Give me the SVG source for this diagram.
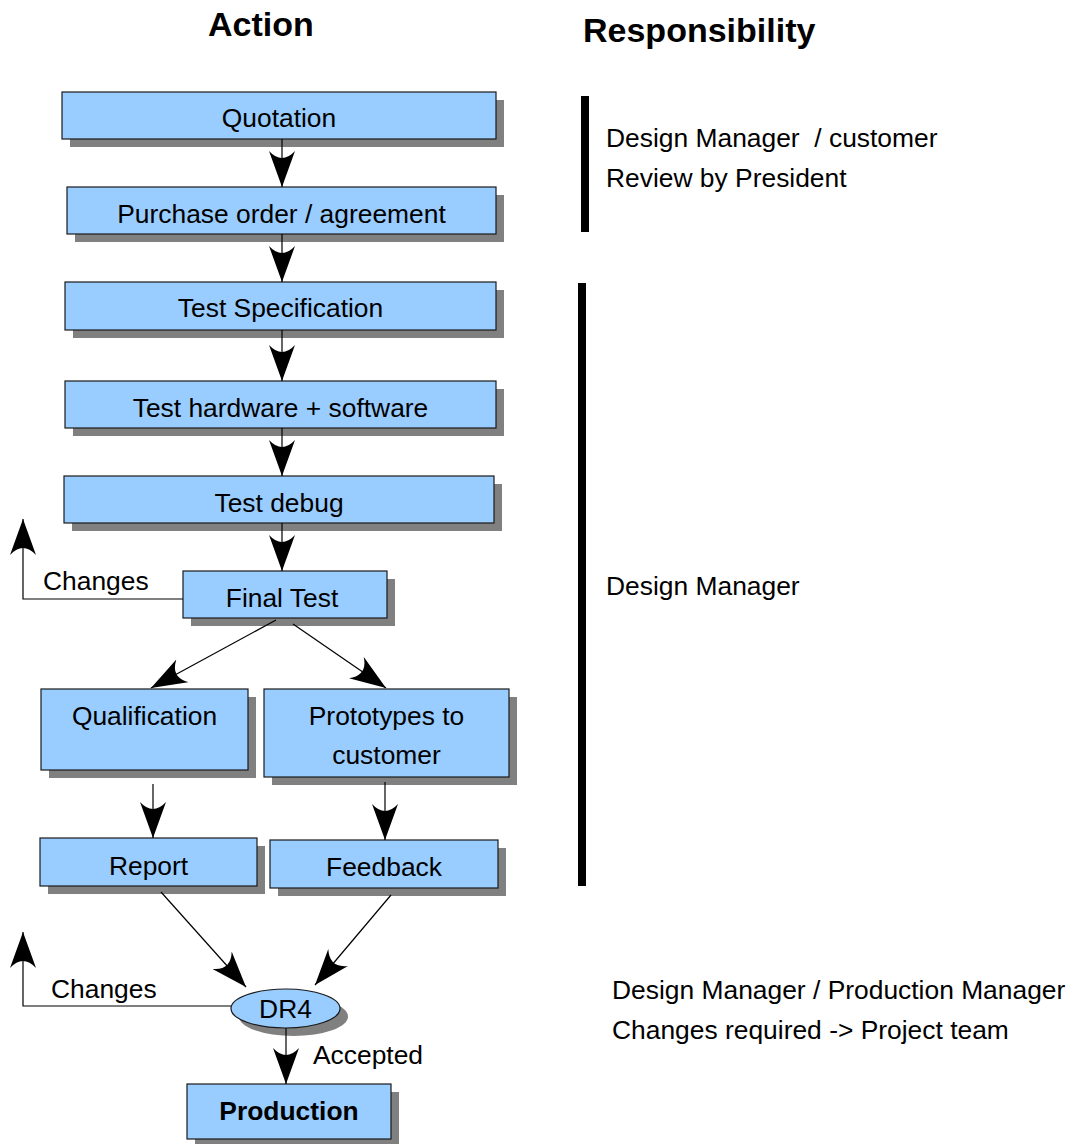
<svg xmlns="http://www.w3.org/2000/svg" width="1075" height="1144" viewBox="0 0 1075 1144">
  <style>
    text { font-family: "Liberation Sans", Arial, sans-serif; font-size: 26.4px; fill: #000; }
    .hdr { font-weight: bold; font-size: 34px; }
    .box { fill: #99ccff; stroke: #1a1a1a; stroke-width: 1.2; }
    .shadow { fill: #808080; }
    .lbl { text-anchor: middle; }
    .conn { fill: none; stroke: #000; stroke-width: 1.2; }
    .bar { fill: #000; }
  </style>
  <defs>
    <marker id="head" markerUnits="userSpaceOnUse" viewBox="0 0 36 26" markerWidth="36" markerHeight="26" refX="36" refY="13" orient="auto">
      <path d="M0,0 Q14,13 0,26 L36,13 Z" fill="#000"/>
    </marker>
  </defs>

  <!-- column headers -->
  <text class="hdr" x="208" y="36">Action</text>
  <text class="hdr" x="583" y="42">Responsibility</text>

  <!-- process steps -->
  <g id="quotation">
    <rect class="shadow" x="70" y="100" width="434" height="47"/>
    <rect class="box" x="62" y="92" width="434" height="47"/>
    <text class="lbl" x="279" y="127">Quotation</text>
  </g>
  <g id="purchase-order">
    <rect class="shadow" x="75" y="195" width="429" height="47"/>
    <rect class="box" x="67" y="187" width="429" height="47"/>
    <text class="lbl" x="281.5" y="223">Purchase order / agreement</text>
  </g>
  <g id="test-specification">
    <rect class="shadow" x="73" y="290" width="431" height="48"/>
    <rect class="box" x="65" y="282" width="431" height="48"/>
    <text class="lbl" x="280.5" y="317">Test Specification</text>
  </g>
  <g id="test-hardware">
    <rect class="shadow" x="73" y="389" width="431" height="47"/>
    <rect class="box" x="65" y="381" width="431" height="47"/>
    <text class="lbl" x="280.5" y="417">Test hardware + software</text>
  </g>
  <g id="test-debug">
    <rect class="shadow" x="72" y="484" width="430" height="47"/>
    <rect class="box" x="64" y="476" width="430" height="47"/>
    <text class="lbl" x="279" y="512">Test debug</text>
  </g>
  <g id="final-test">
    <rect class="shadow" x="191" y="579" width="204" height="47"/>
    <rect class="box" x="183" y="571" width="204" height="47"/>
    <text class="lbl" x="282" y="607">Final Test</text>
  </g>
  <g id="qualification">
    <rect class="shadow" x="49" y="697" width="207" height="81"/>
    <rect class="box" x="41" y="689" width="207" height="81"/>
    <text class="lbl" x="144.5" y="725">Qualification</text>
  </g>
  <g id="prototypes">
    <rect class="shadow" x="272" y="697" width="245" height="88"/>
    <rect class="box" x="264" y="689" width="245" height="88"/>
    <text class="lbl" x="386.5" y="725">Prototypes to</text>
    <text class="lbl" x="386.5" y="764">customer</text>
  </g>
  <g id="report">
    <rect class="shadow" x="48" y="846" width="217" height="48"/>
    <rect class="box" x="40" y="838" width="217" height="48"/>
    <text class="lbl" x="148.5" y="875">Report</text>
  </g>
  <g id="feedback">
    <rect class="shadow" x="278" y="848" width="228" height="48"/>
    <rect class="box" x="270" y="840" width="228" height="48"/>
    <text class="lbl" x="384" y="876">Feedback</text>
  </g>
  <g id="dr4">
    <ellipse class="shadow" cx="293.5" cy="1016.5" rx="54.5" ry="19.5"/>
    <ellipse class="box" cx="285.5" cy="1008.5" rx="54.5" ry="19.5"/>
    <text class="lbl" x="285.5" y="1018">DR4</text>
  </g>
  <g id="production">
    <rect class="shadow" x="195" y="1092" width="204" height="55"/>
    <rect class="box" x="187" y="1084" width="204" height="55"/>
    <text class="lbl" x="289" y="1120" font-weight="bold">Production</text>
  </g>

  <!-- connectors (drawn over the drop shadows) -->
  <g id="connectors">
    <line class="conn" x1="282" y1="139" x2="282" y2="187" marker-end="url(#head)"/>
    <line class="conn" x1="282" y1="234" x2="282" y2="282" marker-end="url(#head)"/>
    <line class="conn" x1="282" y1="330" x2="282" y2="381" marker-end="url(#head)"/>
    <line class="conn" x1="282" y1="428" x2="282" y2="476" marker-end="url(#head)"/>
    <line class="conn" x1="282" y1="523" x2="282" y2="571" marker-end="url(#head)"/>
    <polyline class="conn" points="183,599 23,599 23,519" marker-end="url(#head)"/>
    <line class="conn" x1="276" y1="620" x2="151" y2="688" marker-end="url(#head)"/>
    <line class="conn" x1="293" y1="624" x2="386" y2="688" marker-end="url(#head)"/>
    <line class="conn" x1="153" y1="784" x2="153" y2="838" marker-end="url(#head)"/>
    <line class="conn" x1="385" y1="782" x2="385" y2="840" marker-end="url(#head)"/>
    <line class="conn" x1="161" y1="892" x2="246" y2="987" marker-end="url(#head)"/>
    <line class="conn" x1="391" y1="895" x2="315" y2="985" marker-end="url(#head)"/>
    <polyline class="conn" points="231,1006 23,1006 23,932" marker-end="url(#head)"/>
    <line class="conn" x1="286" y1="1028" x2="286" y2="1084" marker-end="url(#head)"/>
    <text x="43" y="590">Changes</text>
    <text x="51" y="998">Changes</text>
    <text x="313" y="1064">Accepted</text>
  </g>

  <!-- responsibility column -->
  <g id="resp-commercial">
    <rect class="bar" x="581" y="96" width="8" height="136"/>
    <text x="606" y="147" xml:space="preserve">Design Manager  / customer</text>
    <text x="606" y="187">Review by President</text>
  </g>
  <g id="resp-design">
    <rect class="bar" x="578" y="283" width="8" height="603"/>
    <text x="606" y="595">Design Manager</text>
  </g>
  <g id="resp-review">
    <text x="612" y="999">Design Manager / Production Manager</text>
    <text x="612" y="1039">Changes required -&gt; Project team</text>
  </g>
</svg>
